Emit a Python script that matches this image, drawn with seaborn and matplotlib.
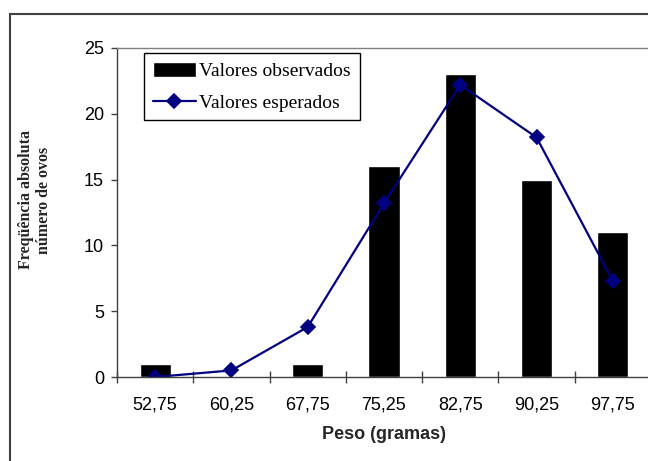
import numpy as np
import pandas as pd
import seaborn as sns
import matplotlib.pyplot as plt
from matplotlib.patches import Rectangle

sns.set_theme(style="white")
plt.rcParams['font.family'] = ['Liberation Sans', 'DejaVu Sans']
plt.rcParams['text.color'] = 'black'

pesos = ["52,75", "60,25", "67,75", "75,25", "82,75", "90,25", "97,75"]
observados = [1, 0, 1, 16, 23, 15, 11]
esperados = [0.0, 0.5, 3.8, 13.2, 22.2, 18.2, 7.3]

df = pd.DataFrame({"Peso": pesos, "Observados": observados, "Esperados": esperados})

fig = plt.figure(figsize=(6.48, 4.61), dpi=100)
ax = fig.add_axes([117/648, 1 - 377/461, 534/648, 329/461])

sns.barplot(data=df, x="Peso", y="Observados", color="black", saturation=1,
            width=0.41, ax=ax, label="Valores observados")
sns.pointplot(data=df, x="Peso", y="Esperados", color="#000080", markers="D",
              markersize=7, linewidth=1.6, errorbar=None, ax=ax,
              label="Valores esperados")

ax.set_ylim(0, 25)
ax.set_yticks(range(0, 26, 5))
ax.set_xlim(-0.5, 6.5)
# ticks on category boundaries, labels in the middle
ax.set_xticks(np.arange(-0.5, 7, 1), labels=[""] * 8)
ax.set_xticks(range(7), labels=pesos, minor=True)
ax.tick_params(axis='x', which='major', direction='inout', length=8.6, width=1,
               color='#404040', bottom=True)
ax.tick_params(axis='x', which='minor', length=0, pad=14, labelsize=13,
               labelcolor='black')
ax.tick_params(axis='y', direction='out', length=4.3, width=1, color='#404040',
               pad=5, labelsize=13, labelcolor='black', left=True)

for s in ['left', 'bottom']:
    ax.spines[s].set_color('#404040')
    ax.spines[s].set_linewidth(1)
ax.spines['top'].set_color('#808080')
ax.spines['top'].set_linewidth(1)
ax.spines['right'].set_visible(False)

ax.set_xlabel("Peso (gramas)", fontweight='bold', fontsize=13, labelpad=9)
ax.set_ylabel("Freqüência absoluta\nnúmero de ovos", family=['Liberation Serif'],
              fontweight='bold', fontsize=11.5, linespacing=1.15)
ax.yaxis.set_label_coords(-0.122, 0.538)

handles, labels = ax.get_legend_handles_labels()
order = [labels.index("Valores observados"), labels.index("Valores esperados")]
ax.legend([handles[i] for i in order], [labels[i] for i in order],
          loc="upper left", bbox_to_anchor=(144/648, 1 - 53/461),
          bbox_transform=fig.transFigure, borderaxespad=0, frameon=True,
          fancybox=False, edgecolor="black", framealpha=1,
          prop={'family': 'Liberation Serif', 'size': 14},
          handlelength=2.2, handleheight=0.8, handletextpad=0.2,
          labelspacing=0.7, borderpad=0.45)
ax.get_legend().get_frame().set_linewidth(1)

fig.add_artist(Rectangle((9.5/648, -0.5), 2, 0.5 + 1 - 14/461,
                         transform=fig.transFigure, fill=False,
                         edgecolor='#404040', lw=1.5))

fig.savefig("out.png", dpi=100)
